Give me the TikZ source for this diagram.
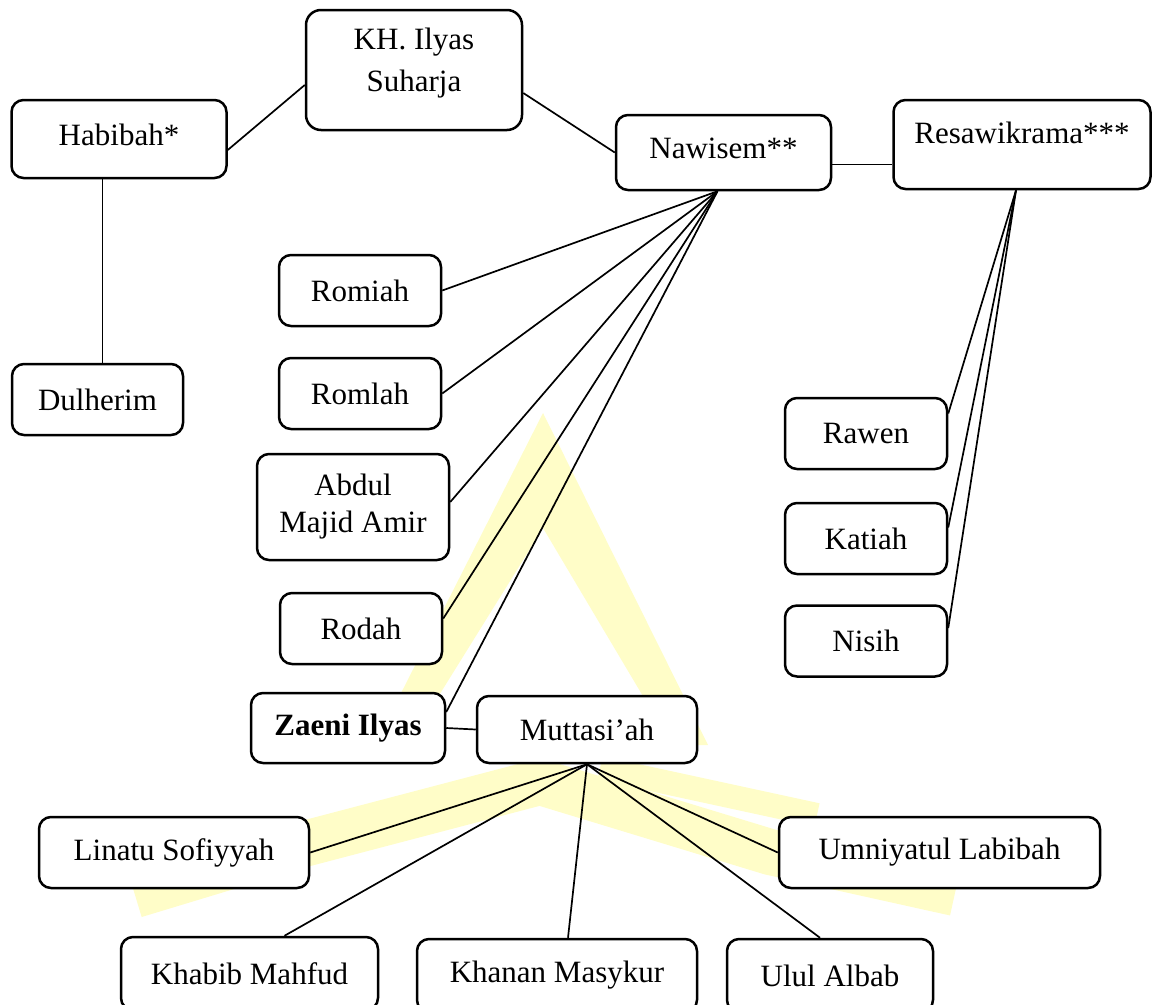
\documentclass[tikz,border=0pt]{standalone}
\usepackage{fontspec}
\setmainfont{Liberation Serif}
\definecolor{wmyellow}{RGB}{255,253,200}

\begin{document}
\begin{tikzpicture}[x=1pt,y=-1pt,font=\fontsize{31}{37}\selectfont,
		person/.style={draw,line width=2.5,fill=white,rounded corners=12,minimum height=71pt,inner sep=4pt},
		link/.style={line width=1.7}]
				\useasboundingbox (0,0) rectangle (1155,1004);
				\clip (0,0) rectangle (1155,1004);
				% faint mark in the background
				\fill[wmyellow] (395,705) -- (543,413) -- (708,745) -- (672,745) -- (543,528) -- (433,705) -- cycle;
				\draw[wmyellow,line width=46,line join=round] (135,895) -- (300,845) -- (540,782) -- (770,852) -- (955,893);
				\draw[wmyellow,line width=24] (600,768) -- (817,815);

				% top row
				\node[person,minimum width=216pt,minimum height=120pt,rounded corners=15,align=center,text depth=21pt] (kh) at (414,70) {KH. Ilyas\\[5pt]Suharja};
				\node[person,minimum width=215pt,minimum height=78pt,text depth=8pt] (habibah) at (119,139) {Habibah*};
				\node[person,minimum width=215pt,minimum height=75pt,text depth=8pt] (nawisem) at (723.5,152.5) {Nawisem**};
				\node[person,minimum width=257pt,minimum height=89pt,text depth=24pt] (resa) at (1022,144.5) {Resawikrama***};
				\node[person,minimum width=171pt] (dulherim) at (97.5,399.5) {Dulherim};

				% children of Nawisem
				\node[person,minimum width=162pt] (romiah) at (360,290.5) {Romiah};
				\node[person,minimum width=162pt] (romlah) at (360,393.5) {Romlah};
				\node[person,minimum width=192pt,minimum height=106pt,align=center] (abdul) at (353,507) {Abdul\\Majid Amir};
				\node[person,minimum width=162pt] (rodah) at (361,628.5) {Rodah};
				\node[person,minimum width=194pt,minimum height=70pt] (zaeni) at (348,728) {\bfseries Zaeni Ilyas};
				\node[person,minimum width=220pt,minimum height=67pt] (mutt) at (587,729.5) {Muttasi’ah};

				% children of Resawikrama
				\node[person,minimum width=162pt] (rawen) at (866,433.5) {Rawen};
				\node[person,minimum width=162pt] (katiah) at (866,538.5) {Katiah};
				\node[person,minimum width=162pt] (nisih) at (866,641) {Nisih};

				% children of Zaeni Ilyas
				\node[person,minimum width=270pt] (linatu) at (174,852.5) {Linatu Sofiyyah};
				\node[person,minimum width=321pt] (umni) at (939.5,852.5) {Umniyatul Labibah};
				\node[person,minimum width=257pt,minimum height=73pt] (khabib) at (249.5,973.5) {Khabib Mahfud};
				\node[person,minimum width=280pt,minimum height=73pt] (khanan) at (557,975.5) {Khanan Masykur};
				\node[person,minimum width=206pt,minimum height=73pt] (ulul) at (830,975.5) {Ulul Albab};

				\draw[link] ([yshift=-11pt]habibah.east) -- ([yshift=-15pt]kh.west);
				\draw[link] ([yshift=-23pt]kh.east) -- (nawisem.west);
				\draw[link] ([yshift=-12pt]nawisem.east) -- ([yshift=-20pt]resa.west);
				\draw[link] ([xshift=5pt]dulherim.north) -- ([xshift=5pt]dulherim.north |- habibah.south);
				\foreach \kid/\dy in {romiah/0,romlah/0,abdul/5,rodah/10,zaeni/16}{
					\draw[link] ([xshift=-6pt]nawisem.south) -- ([yshift=\dy pt]\kid.east);
				}
				\foreach \kid/\dy in {rawen/20,katiah/11,nisih/13}{
					\draw[link] ([xshift=-6pt]resa.south) -- ([yshift=\dy pt]\kid.east);
				}
				\draw[link] (zaeni.east) -- (mutt.west);
				\draw[link] (mutt.south) -- (linatu.east);
				\draw[link] (mutt.south) -- (umni.west);
				\draw[link] (mutt.south) -- ([xshift=35pt]khabib.north);
				\draw[link] (mutt.south) -- ([xshift=11pt]khanan.north);
				\draw[link] (mutt.south) -- ([xshift=-10pt]ulul.north);
			\end{tikzpicture}
\end{document}
